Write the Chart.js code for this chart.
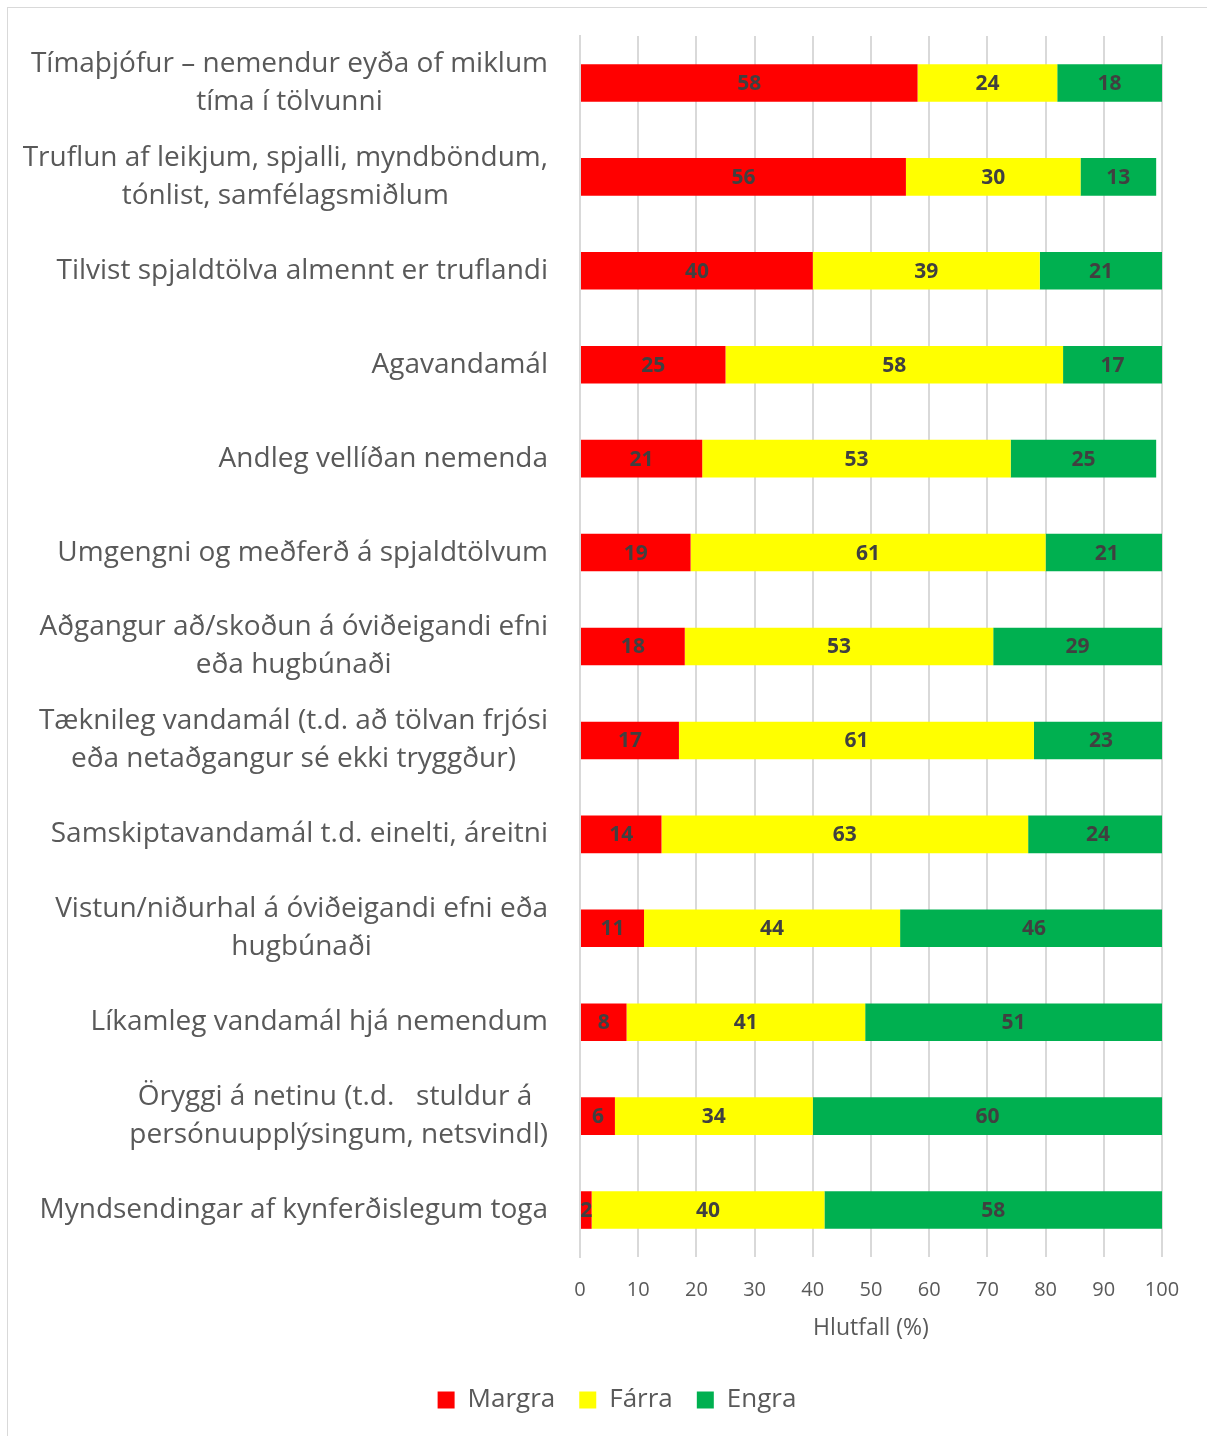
<!DOCTYPE html>
<html>
<head>
<meta charset="utf-8">
<script src="https://cdn.jsdelivr.net/npm/chart.js@4/dist/chart.umd.min.js"></script>
<style>
  html, body { margin: 0; padding: 0; background: #fff; }
  #wrap { position: relative; width: 1207px; height: 1436px; }
  #frame { position: absolute; left: 7px; top: 7px; width: 1210px; height: 1440px; border: 1px solid #d9d9d9; box-sizing: border-box; }
  #myChart { position: absolute; left: 0; top: 0; }
</style>
</head>
<body>
<div id="wrap">
  <div id="frame"></div>
  <canvas id="myChart" width="1207" height="1436"></canvas>
</div>
<script>
const categories = [
   ["Tímaþjófur – nemendur eyða of miklum", "tíma í tölvunni"],
   ["Truflun af leikjum, spjalli, myndböndum,", "tónlist, samfélagsmiðlum"],
   "Tilvist spjaldtölva almennt er truflandi",
   "Agavandamál",
   "Andleg vellíðan nemenda",
   "Umgengni og meðferð á spjaldtölvum",
   ["Aðgangur að/skoðun á óviðeigandi efni", "eða hugbúnaði"],
   ["Tæknileg vandamál (t.d. að tölvan frjósi", "eða netaðgangur sé ekki tryggður)"],
   "Samskiptavandamál t.d. einelti, áreitni",
   ["Vistun/niðurhal á óviðeigandi efni eða", "hugbúnaði"],
   "Líkamleg vandamál hjá nemendum",
   ["Öryggi á netinu (t.d.   stuldur á ", "persónuupplýsingum, netsvindl)"],
   "Myndsendingar af kynferðislegum toga",
];
const margra = [58, 56, 40, 25, 21, 19, 18, 17, 14, 11, 8, 6, 2];
const farra  = [24, 30, 39, 58, 53, 61, 53, 61, 63, 44, 41, 34, 40];
const engra  = [18, 13, 21, 17, 25, 21, 29, 23, 24, 46, 51, 60, 58];
const xTicks = [0, 10, 20, 30, 40, 50, 60, 70, 80, 90, 100];

const FONT = "'Open Sans', 'Noto Sans', sans-serif";
const GREY = "#595959";

// writes each segment's value in the middle of its bar
const barLabels = {
   id: "barLabels",
   afterDatasetsDraw(chart) {
      const ctx = chart.ctx;
      ctx.save();
      ctx.font = "bold 21px " + FONT;
      ctx.fillStyle = "#404040";
      ctx.textAlign = "center";
      ctx.textBaseline = "middle";
      chart.data.datasets.forEach((ds, i) => {
         chart.getDatasetMeta(i).data.forEach((bar, j) => {
            const cx = (bar.x + bar.base) / 2;
            ctx.fillText(String(ds.data[j]), cx, bar.y + 1);
         });
      });
      ctx.restore();
   },
};

// category names: block right-aligned to the axis, lines centred inside the block
const categoryLabels = {
   id: "categoryLabels",
   afterDraw(chart) {
      const ctx = chart.ctx;
      const y = chart.scales.y;
      const right = y.right - 32;
      const lineH = 38;
      ctx.save();
      ctx.font = "28px " + FONT;
      ctx.fillStyle = GREY;
      ctx.textAlign = "center";
      ctx.textBaseline = "middle";
      chart.data.labels.forEach((lab, i) => {
         const lines = Array.isArray(lab) ? lab : [lab];
         const w = Math.max(...lines.map((s) => ctx.measureText(s).width));
         const cx = right - w / 2;
         const cy = y.getPixelForTick(i);
         lines.forEach((s, k) => {
            ctx.fillText(s, cx, cy + (k - (lines.length - 1) / 2) * lineH);
         });
      });
      ctx.restore();
   },
};

// nudge the legend to the right so it sits under the middle of the page
const legendShift = {
   id: "legendShift",
   afterLayout(chart) {
      chart.legend.left += 36;
      chart.legend.right += 36;
   },
};

const ctx = document.getElementById("myChart");
const myChart = new Chart(ctx, {
   type: "bar",
   data: {
      labels: categories,
      datasets: [
         { label: "Margra", data: margra, backgroundColor: "#ff0000" },
         { label: "Fárra", data: farra, backgroundColor: "#ffff00" },
         { label: "Engra", data: engra, backgroundColor: "#00b050" },
      ],
   },
   options: {
      indexAxis: "y",
      responsive: false,
      animation: false,
      barPercentage: 0.4,
      categoryPercentage: 1,
      layout: {
         padding: { top: 36, right: 45, bottom: 13, left: 0 },
      },
      plugins: {
         legend: {
            position: "bottom",
            labels: {
               boxWidth: 17,
               boxHeight: 17,
               padding: 24,
               color: GREY,
               font: { family: FONT, size: 26 },
            },
         },
         tooltip: { enabled: false },
      },
      scales: {
         x: {
            stacked: true,
            min: 0,
            max: 100,
            afterBuildTicks: (scale) => {
               scale.ticks = xTicks.map((v) => ({ value: v }));
            },
            afterFit: (scale) => {
               scale.height = 106;
            },
            ticks: {
               color: GREY,
               font: { family: FONT, size: 20 },
               padding: 21,
            },
            grid: {
               color: "#d9d9d9",
               lineWidth: 2,
               drawTicks: false,
            },
            border: { display: false },
            title: {
               display: true,
               text: "Hlutfall (%)",
               color: GREY,
               font: { family: FONT, size: 23 },
               padding: { top: 0, bottom: 21 },
            },
         },
         y: {
            stacked: true,
            afterFit: (scale) => {
               scale.width = 580;
            },
            ticks: { display: false },
            grid: { display: false },
            border: { display: true, color: "#d9d9d9", width: 2 },
         },
      },
   },
   plugins: [barLabels, categoryLabels, legendShift],
});
</script>
</body>
</html>
